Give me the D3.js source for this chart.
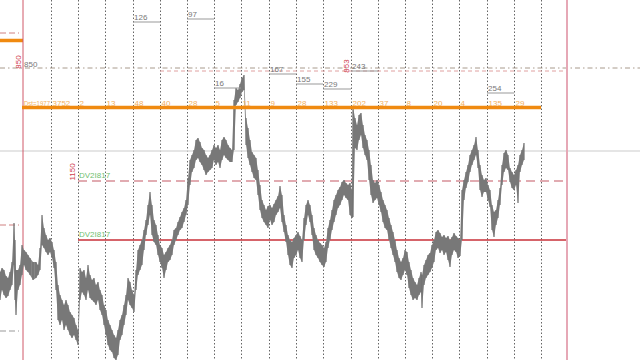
<!DOCTYPE html>
<html>
<head>
<meta charset="utf-8">
<script src="https://cdn.jsdelivr.net/npm/d3@7"></script>
<style>
  html, body { margin: 0; padding: 0; background: #fff; overflow: hidden; }
  svg { display: block; font-family: "Liberation Sans", Arial, sans-serif; }
</style>
</head>
<body>
<div id="chart"></div>
<script>
// bar number, high, low (in points)
const priceBars = [
  [0,88,60],[2,92,70],[4,90,65],[6,84,62],[8,82,64],[10,88,70],[12,98,75],[14,137,95],[15,120,60],[16,90,45],
  [18,90,70],[20,95,75],[22,115,85],[24,110,95],[26,108,90],[28,105,88],[30,102,85],[33,98,80],[36,98,82],[38,95,85],
  [40,112,90],[42,145,115],[44,132,112],[46,125,108],[48,120,105],[50,122,108],[52,118,102],[54,110,92],[56,98,70],[58,75,40],
  [60,65,35],[62,60,40],[64,55,30],[66,60,35],[68,55,30],[70,48,25],[72,45,22],[74,42,25],[76,35,20],[78,30,15],
  [80,92,60],[82,88,68],[84,90,65],[86,82,60],[88,95,70],[90,85,62],[92,80,60],[94,82,58],[96,75,55],[98,78,60],
  [100,70,50],[102,65,45],[104,55,35],[106,50,25],[108,40,15],[110,35,10],[112,30,8],[114,25,2],[116,22,0],[118,30,5],
  [120,40,20],[122,45,25],[124,55,35],[126,65,45],[128,82,60],[130,78,55],[132,70,52],[134,65,48],[136,90,70],[138,110,85],
  [140,115,90],[142,120,95],[144,130,110],[146,140,125],[148,155,135],[150,168,145],[152,155,125],[154,140,118],[156,135,115],[158,125,105],
  [160,115,98],[162,112,92],[164,105,82],[166,108,90],[168,112,98],[170,115,100],[172,120,105],[174,130,115],[176,132,120],[178,138,125],
  [180,143,130],[182,148,132],[184,152,138],[186,160,145],[188,182,155],[190,200,175],[192,205,188],[194,210,192],[196,220,200],[198,222,202],
  [200,218,198],[202,212,195],[204,210,190],[206,205,185],[208,202,188],[210,205,190],[212,210,192],[214,215,200],[216,212,195],[218,215,198],
  [220,210,192],[222,220,200],[224,223,205],[226,220,202],[228,215,200],[230,212,198],[232,210,198],[234,260,210],[236,272,255],[238,270,258],
  [240,276,262],[242,282,268],[244,285,270],[246,242,215],[248,232,202],[250,220,195],[252,208,188],[254,205,182],[256,202,180],[258,190,165],
  [260,175,150],[262,160,142],[264,155,138],[266,150,135],[268,154,132],[270,155,140],[272,152,135],[274,156,138],[276,160,145],[278,164,148],
  [280,174,152],[282,165,138],[284,145,128],[286,135,118],[288,125,105],[290,120,95],[292,118,92],[294,122,102],[296,125,105],[298,128,110],
  [300,124,102],[302,120,98],[304,142,120],[306,155,135],[308,160,145],[310,155,138],[312,145,125],[314,132,110],[316,125,105],[318,120,102],
  [320,117,98],[322,115,95],[324,112,93],[326,118,98],[328,132,112],[330,140,120],[332,150,130],[334,160,138],[336,165,145],[338,170,152],
  [340,173,155],[342,178,160],[344,180,165],[346,177,162],[348,175,160],[350,177,145],[352,170,142],[353,253,143],[355,242,212],[357,235,210],
  [359,245,220],[361,247,225],[363,235,212],[365,225,205],[367,220,200],[369,210,180],[371,195,165],[373,180,157],[375,177,160],[377,180,162],
  [379,175,155],[381,168,148],[383,160,138],[385,155,132],[387,150,130],[389,142,120],[391,135,112],[393,128,105],[395,120,98],[397,110,88],
  [399,102,82],[401,98,80],[403,102,85],[405,110,90],[407,108,85],[409,98,72],[411,90,65],[413,82,60],[415,78,62],[417,75,60],
  [419,82,65],[421,88,68],[422,85,52],[424,95,75],[426,100,82],[428,105,85],[430,107,88],[432,115,92],[434,120,98],[436,128,110],
  [438,130,112],[440,127,107],[442,123,110],[444,125,105],[446,122,108],[448,124,100],[450,120,93],[452,123,105],[454,127,110],[456,124,108],
  [458,122,102],[460,120,104],[462,170,120],[464,180,160],[466,188,172],[468,195,178],[470,205,188],[472,210,195],[474,215,200],[476,223,205],
  [478,210,192],[480,195,170],[482,185,163],[484,180,168],[486,182,168],[488,175,160],[490,170,153],[492,155,130],[494,148,123],[496,150,135],
  [498,160,142],[500,172,155],[502,195,175],[504,207,188],[506,210,192],[508,205,190],[510,192,178],[512,188,172],[514,185,170],[516,190,175],
  [518,195,157],[520,205,188],[522,210,195],[524,217,200]
];

// session separators (bar numbers) and the counts printed on them
const dayBreaks = [51, 78, 105, 133, 160, 187, 214, 241, 269, 296, 323, 351, 378, 405, 432, 459, 487, 514, 541];
const dayCounts = ["3752", "2", "13", "48", "40", "28", "5", "11", "9", "28", "133", "202", "37", "8", "20", "4", "135", "29", ""];

// small grey markers: label, level, from day index, to day index
const volMarks = [
  ["126", 338, 3, 4], ["97", 341, 5, 6], ["16", 272, 6, 7], ["167", 286, 8, 9],
  ["155", 276, 9, 10], ["229", 271, 10, 11], ["243", 289, 11, 12], ["254", 267, 16, 17]
];

// horizontal levels (points)
const levelOrange = 252.5, levelOrangeOld = 319.5;
const levelDashDot = 292, levelRedTop = 289;
const levelGrey = 209, levelRedDash = 179, levelRed = 120;
const stubRed = [327, 135], stubGrey = [29];

const startBar = 23, endBar = 567;

const W = 640, H = 360;
const x = d3.scaleLinear().domain([0, 640]).range([0, W]);
const y = d3.scaleLinear().domain([0, 360]).range([H, 0]);

const svg = d3.select("#chart").append("svg").attr("width", W).attr("height", H);
svg.append("rect").attr("width", W).attr("height", H).attr("fill", "#fff");

// dotted day separators
svg.append("g").selectAll("line").data(dayBreaks).enter().append("line")
  .attr("x1", d => x(d) + 0.5).attr("x2", d => x(d) + 0.5)
  .attr("y1", 0).attr("y2", H)
  .attr("stroke", "#666").attr("stroke-width", 1).attr("stroke-dasharray", "1.5,2");

// full-width light grey level
svg.append("line").attr("x1", 0).attr("x2", W)
  .attr("y1", y(levelGrey)).attr("y2", y(levelGrey))
  .attr("stroke", "#dcdcdc").attr("stroke-width", 1.5);

// dash-dot line across, red dashed just under it
svg.append("line").attr("x1", 0).attr("x2", W)
  .attr("y1", y(levelDashDot)).attr("y2", y(levelDashDot))
  .attr("stroke", "#a89a8c").attr("stroke-width", 1).attr("stroke-dasharray", "5,3,1.5,3");
svg.append("line").attr("x1", x(160)).attr("x2", x(endBar))
  .attr("y1", y(levelRedTop)).attr("y2", y(levelRedTop))
  .attr("stroke", "#e0a0a0").attr("stroke-width", 1).attr("stroke-dasharray", "4,3");

// left stubs
svg.append("g").selectAll("line").data(stubRed).enter().append("line")
  .attr("x1", 0).attr("x2", x(19))
  .attr("y1", d => y(d)).attr("y2", d => y(d))
  .attr("stroke", "#d08080").attr("stroke-width", 1).attr("stroke-dasharray", "6,3");
svg.append("g").selectAll("line").data(stubGrey).enter().append("line")
  .attr("x1", 0).attr("x2", x(19))
  .attr("y1", d => y(d)).attr("y2", d => y(d))
  .attr("stroke", "#999").attr("stroke-width", 1).attr("stroke-dasharray", "6,3");
svg.append("line").attr("x1", 0).attr("x2", x(startBar))
  .attr("y1", y(levelOrangeOld)).attr("y2", y(levelOrangeOld))
  .attr("stroke", "#f08a10").attr("stroke-width", 3.5);

// red levels
svg.append("line").attr("x1", x(dayBreaks[1])).attr("x2", x(endBar - 2))
  .attr("y1", y(levelRedDash)).attr("y2", y(levelRedDash))
  .attr("stroke", "#d89098").attr("stroke-width", 1.3).attr("stroke-dasharray", "9,5");
svg.append("line").attr("x1", x(dayBreaks[1])).attr("x2", x(endBar))
  .attr("y1", y(levelRed)).attr("y2", y(levelRed))
  .attr("stroke", "#c83038").attr("stroke-width", 1.5);

// vertical boundaries
svg.append("line").attr("x1", x(startBar)).attr("x2", x(startBar))
  .attr("y1", 0).attr("y2", H).attr("stroke", "#d05868").attr("stroke-width", 1);
svg.append("line").attr("x1", x(endBar)).attr("x2", x(endBar))
  .attr("y1", 0).attr("y2", H).attr("stroke", "#e6a8b6").attr("stroke-width", 2);

// price
const area = d3.area().x(d => x(d[0])).y0(d => y(d[2])).y1(d => y(d[1]));
svg.append("path").datum(priceBars).attr("d", area).attr("fill", "#868686");
svg.append("g").selectAll("line").data(priceBars).enter().append("line")
  .attr("x1", d => x(d[0])).attr("x2", d => x(d[0]))
  .attr("y1", d => y(d[1])).attr("y2", d => y(d[2]))
  .attr("stroke", "#707070").attr("stroke-width", 1.2);

// orange level and its counts
svg.append("line").attr("x1", x(startBar) - 1).attr("x2", x(dayBreaks[dayBreaks.length - 1]))
  .attr("y1", y(levelOrange)).attr("y2", y(levelOrange))
  .attr("stroke", "#f08a10").attr("stroke-width", 3.5);
const orangeText = svg.append("g").attr("font-size", 8).attr("fill", "#f2b060");
orangeText.append("text").attr("x", x(startBar) + 1).attr("y", y(levelOrange) - 1.5)
  .attr("font-size", 7).attr("textLength", 26).attr("lengthAdjust", "spacingAndGlyphs").text("Dst=1977");
orangeText.selectAll(".cnt").data(dayBreaks).enter().append("text").attr("class", "cnt")
  .attr("x", d => x(d) + 1.5).attr("y", y(levelOrange) - 1.5)
  .text((d, i) => dayCounts[i]);

// grey markers
const vm = svg.append("g").selectAll("g").data(volMarks).enter().append("g");
vm.append("line")
  .attr("x1", d => x(dayBreaks[d[2]])).attr("x2", d => x(dayBreaks[d[3]]))
  .attr("y1", d => y(d[1])).attr("y2", d => y(d[1]))
  .attr("stroke", "#999").attr("stroke-width", 1);
vm.append("text")
  .attr("x", d => x(dayBreaks[d[2]]) + 1).attr("y", d => y(d[1]) - 2)
  .attr("font-size", 8).attr("fill", "#777").text(d => d[0]);
svg.append("text").attr("x", x(startBar) + 1).attr("y", y(levelDashDot) - 1.5)
  .attr("font-size", 8).attr("fill", "#777").text("850");

// green level tags
svg.append("g").selectAll("text").data([levelRedDash, levelRed]).enter().append("text")
  .attr("x", x(dayBreaks[1]) + 1).attr("y", d => y(d) - 3)
  .attr("font-size", 8).attr("fill", "#70c070").text("DV2I817");

// rotated red tags
const redTags = [["850", 18, 62], ["1150", 72, 172], ["853", 346, 66]];
svg.append("g").selectAll("text").data(redTags).enter().append("text")
  .attr("transform", d => `translate(${x(d[1]) + 3},${d[2]}) rotate(-90)`)
  .attr("text-anchor", "middle").attr("font-size", 8).attr("fill", "#d04050")
  .text(d => d[0]);
</script>
</body>
</html>
